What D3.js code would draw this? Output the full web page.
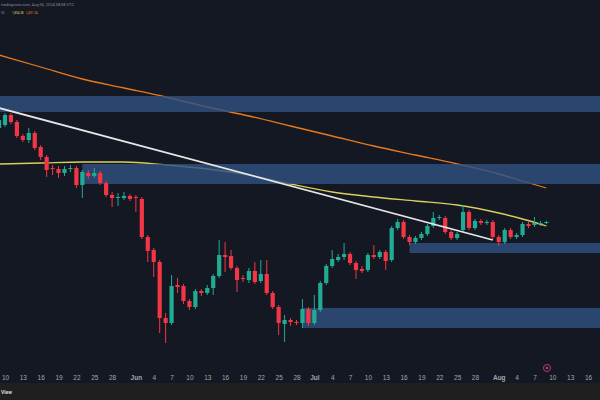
<!DOCTYPE html>
<html>
<head>
<meta charset="utf-8">
<script src="https://cdn.jsdelivr.net/npm/d3@7"></script>
<style>
  html, body { margin: 0; padding: 0; background: #141823; overflow: hidden; }
</style>
</head>
<body>
<script>
// Daily candles, the first one is May 9
const startDate = "2024-05-09";
const opens = [
    2720, 2750, 2850, 2780, 2640, 2600, 2670, 2530, 2430, 2320,
    2310, 2270, 2310, 2320, 2150, 2270, 2240, 2270, 2170, 2050,
    2020, 2020, 2040, 2030, 2010, 1630, 1500, 1380, 820, 770,
    1150, 1140, 990, 930, 1090, 1070, 1120, 1240, 1450, 1440,
    1320, 1220, 1200, 1290, 1190, 1260, 1070, 930, 760, 800,
    780, 770, 910, 770, 900, 1170, 1340, 1400, 1430, 1460,
    1370, 1310, 1300, 1450, 1430, 1480, 1400, 1720, 1780, 1630,
    1580, 1620, 1660, 1740, 1820, 1820, 1680, 1620, 1700, 1880,
    1720, 1790, 1770, 1780, 1630, 1580, 1700, 1630, 1650, 1760,
    1750, 1760, 1770
];
const highs = [
    2820, 2870, 2870, 2800, 2660, 2720, 2690, 2550, 2450, 2350,
    2340, 2340, 2350, 2340, 2300, 2300, 2320, 2290, 2190, 2080,
    2070, 2080, 2060, 2050, 2030, 1650, 1520, 1400, 870, 1250,
    1220, 1160, 1010, 1110, 1110, 1150, 1260, 1600, 1580, 1500,
    1340, 1250, 1320, 1380, 1400, 1400, 1090, 950, 850, 820,
    800, 1010, 930, 1050, 1190, 1360, 1500, 1460, 1570, 1480,
    1390, 1340, 1470, 1550, 1500, 1500, 1740, 1810, 1800, 1650,
    1640, 1680, 1760, 1880, 1850, 1840, 1700, 1680, 1950, 1900,
    1810, 1810, 1800, 1800, 1650, 1720, 1720, 1670, 1780, 1780,
    1830, 1790, 1790
];
const lows = [
    2700, 2730, 2760, 2620, 2580, 2570, 2500, 2400, 2230, 2250,
    2220, 2240, 2280, 2120, 2020, 2210, 2220, 2150, 2030, 1930,
    1940, 2000, 1990, 1880, 1610, 1380, 1230, 670, 570, 750,
    1070, 960, 900, 910, 1040, 1050, 1050, 1220, 1280, 1300,
    1080, 1180, 1170, 1160, 1170, 1050, 910, 650, 580, 740,
    750, 720, 740, 750, 880, 1150, 1320, 1380, 1400, 1350,
    1210, 1270, 1280, 1410, 1410, 1300, 1380, 1700, 1610, 1550,
    1560, 1600, 1640, 1720, 1800, 1660, 1600, 1600, 1680, 1700,
    1700, 1750, 1750, 1610, 1540, 1560, 1610, 1610, 1630, 1720,
    1730, 1740, 1760
];
const closes = [
    2800, 2850, 2780, 2640, 2600, 2670, 2520, 2430, 2300, 2310,
    2270, 2310, 2320, 2150, 2280, 2240, 2270, 2170, 2050, 2020,
    2030, 2040, 2010, 2020, 1630, 1490, 1380, 820, 770, 1140,
    1130, 990, 930, 1090, 1070, 1120, 1240, 1450, 1430, 1320,
    1200, 1210, 1290, 1180, 1260, 1070, 930, 770, 800, 780,
    770, 910, 770, 900, 1170, 1340, 1410, 1430, 1460, 1370,
    1300, 1290, 1450, 1430, 1480, 1390, 1720, 1780, 1630, 1580,
    1620, 1660, 1740, 1820, 1830, 1680, 1620, 1660, 1880, 1720,
    1790, 1770, 1780, 1630, 1580, 1700, 1630, 1650, 1760, 1740,
    1770, 1770, 1780
];

// Moving averages
const maDates = ["2024-05-09", "2024-05-16", "2024-05-23", "2024-05-30", "2024-06-06",
    "2024-06-13", "2024-06-20", "2024-06-27", "2024-07-04", "2024-07-11",
    "2024-07-18", "2024-07-25", "2024-08-01", "2024-08-05", "2024-08-09"];
const ma50 = [2360, 2370, 2380, 2380, 2350, 2310, 2250, 2160, 2080, 2030, 1990, 1950, 1870, 1810, 1740];
const ma200 = [3450, 3330, 3210, 3120, 3030, 2930, 2840, 2740, 2640, 2540, 2450, 2360, 2260, 2190, 2120];

// Zones (rectangles running to the right edge)
const zoneStarts = ["2024-04-01", "2024-05-23", "2024-06-29", "2024-07-17"];
const zoneTops = [3040, 2360, 920, 1570];
const zoneBottoms = [2880, 2160, 720, 1470];

// White trend line anchors
const trendDates = ["2024-05-09", "2024-07-31"];
const trendPrices = [2920, 1600];

// X axis ticks
const tickDates = ["2024-05-10", "2024-05-13", "2024-05-16", "2024-05-19", "2024-05-22", "2024-05-25", "2024-05-28",
    "2024-06-01", "2024-06-04", "2024-06-07", "2024-06-10", "2024-06-13", "2024-06-16", "2024-06-19", "2024-06-22", "2024-06-25", "2024-06-28",
    "2024-07-01", "2024-07-04", "2024-07-07", "2024-07-10", "2024-07-13", "2024-07-16", "2024-07-19", "2024-07-22", "2024-07-25", "2024-07-28",
    "2024-08-01", "2024-08-04", "2024-08-07", "2024-08-10", "2024-08-13", "2024-08-16"];

// Header legend values
const legendValues = ["1,804.38", "2,491.34"];

(function () {
    const width = 600, height = 400;
    const parse = d3.utcParse("%Y-%m-%d");

    const svg = d3.select("body").append("svg")
        .attr("width", width)
        .attr("height", height)
        .style("display", "block")
        .style("font-family", "Roboto, 'DejaVu Sans', sans-serif");

    // background
    svg.append("rect").attr("width", width).attr("height", height).attr("fill", "#141823");

    // scales
    const x = d3.scaleUtc()
        .domain([parse("2024-05-10"), parse("2024-08-16")])
        .range([5, 588]);
    const y = d3.scaleLinear()
        .domain([0, 4000])
        .range([400, 0]);

    const start = parse(startDate);
    const candles = opens.map((o, i) => ({
        date: d3.utcDay.offset(start, i),
        open: o, high: highs[i], low: lows[i], close: closes[i]
    }));

    const plot = svg.append("g");

    // 1. MOVING AVERAGES
    const maLine = d3.line()
        .x(d => x(d.date))
        .y(d => y(d.value))
        .curve(d3.curveMonotoneX);

    const maRows = (values) => maDates.map((d, i) => ({ date: parse(d), value: values[i] }));

    plot.append("path")
        .attr("d", maLine(maRows(ma200)))
        .attr("fill", "none")
        .attr("stroke", "#e8791e")
        .attr("stroke-width", 1.3);

    plot.append("path")
        .attr("d", maLine(maRows(ma50)))
        .attr("fill", "none")
        .attr("stroke", "#d8cf5c")
        .attr("stroke-width", 1.3);

    // 2. ZONES
    zoneStarts.forEach((s, i) => {
        plot.append("rect")
            .attr("x", Math.max(0, x(parse(s))))
            .attr("y", y(zoneTops[i]))
            .attr("width", width - Math.max(0, x(parse(s))))
            .attr("height", y(zoneBottoms[i]) - y(zoneTops[i]))
            .attr("fill", "#31507f")
            .attr("fill-opacity", 0.82);
    });

    // 3. CANDLES
    const bodyW = 4.2;
    const up = "#22ab94", down = "#f23645";

    const candle = plot.selectAll(".candle")
        .data(candles)
        .join("g")
        .attr("class", "candle");

    candle.append("line")
        .attr("x1", d => x(d.date))
        .attr("x2", d => x(d.date))
        .attr("y1", d => y(d.high))
        .attr("y2", d => y(d.low))
        .attr("stroke", d => d.close >= d.open ? up : down)
        .attr("stroke-width", 1);

    candle.append("rect")
        .attr("x", d => x(d.date) - bodyW / 2)
        .attr("y", d => y(Math.max(d.open, d.close)))
        .attr("width", bodyW)
        .attr("height", d => Math.max(1, Math.abs(y(d.open) - y(d.close))))
        .attr("fill", d => d.close >= d.open ? up : down);

    // 4. TREND LINE
    plot.append("line")
        .attr("x1", x(parse(trendDates[0])))
        .attr("y1", y(trendPrices[0]))
        .attr("x2", x(parse(trendDates[1])))
        .attr("y2", y(trendPrices[1]))
        .attr("stroke", "#e6e6e6")
        .attr("stroke-width", 1.8);

    // 5. X AXIS
    const xAxis = d3.axisBottom(x)
        .tickValues(tickDates.map(parse))
        .tickSize(0)
        .tickPadding(0)
        .tickFormat(d => d.getUTCDate() === 1 ? d3.utcFormat("%b")(d) : d3.utcFormat("%-d")(d));

    const axisG = svg.append("g")
        .attr("transform", "translate(0, 375)")
        .call(xAxis);
    axisG.select(".domain").remove();
    axisG.selectAll("text")
        .attr("fill", "#a3a6af")
        .attr("font-size", "6.5px")
        .attr("font-weight", d => d.getUTCDate() === 1 ? 700 : 400);

    // event marker near the axis
    svg.append("circle")
        .attr("cx", 547).attr("cy", 368).attr("r", 3.6)
        .attr("fill", "#2a1a2e")
        .attr("stroke", "#b0306a")
        .attr("stroke-width", 1);
    svg.append("circle")
        .attr("cx", 547).attr("cy", 368).attr("r", 1)
        .attr("fill", "#d25590");

    // 6. BOTTOM STRIP + WATERMARK
    svg.append("rect")
        .attr("y", 383).attr("width", width).attr("height", 17)
        .attr("fill", "#1f1f1f");
    svg.append("text")
        .attr("x", 1).attr("y", 394)
        .attr("font-size", "5px")
        .attr("font-weight", 700)
        .attr("fill", "#d8d8d8")
        .text("View");

    // 7. HEADER
    svg.append("text")
        .attr("x", 1).attr("y", 6)
        .attr("font-size", "3.5px")
        .attr("fill", "#8a8d96")
        .attr("textLength", 73)
        .attr("lengthAdjust", "spacingAndGlyphs")
        .text("tradingview.com, Aug 06, 2024 08:08 UTC");

    svg.append("text")
        .attr("x", 1).attr("y", 14)
        .attr("font-size", "3px")
        .attr("fill", "#8a8d96")
        .text("50");
    svg.append("text")
        .attr("x", 12).attr("y", 14)
        .attr("font-size", "3px")
        .attr("fill", "#d8cf5c")
        .text(legendValues[0]);
    svg.append("text")
        .attr("x", 26).attr("y", 14)
        .attr("font-size", "3px")
        .attr("fill", "#e8791e")
        .text(legendValues[1]);
})();
</script>
</body>
</html>
